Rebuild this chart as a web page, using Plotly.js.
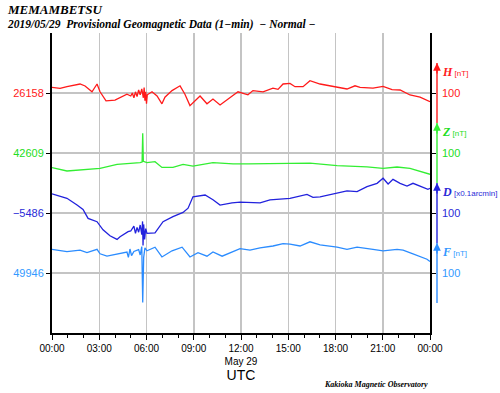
<!DOCTYPE html>
<html>
<head>
<meta charset="utf-8">
<script src="https://cdn.plot.ly/plotly-3.0.1.min.js"></script>
<style>html,body{margin:0;padding:0;background:#fff;}#chart{width:500px;height:393px;}</style>
</head>
<body>
<div id="chart"></div>
<script>
// ---- data (hours UTC, values) ----
const hoursH = [0,0.51,0.95,1.78,2.10,2.54,2.86,3.05,3.43,4.0,4.76,5.0,5.1,5.2,5.3,5.4,5.5,5.6,5.7,5.8,5.85,5.9,5.95,6.0,6.05,6.35,6.67,6.98,7.17,7.62,8.13,8.44,8.76,9.08,9.40,9.84,10.22,10.67,11.30,11.81,12.44,12.76,13.40,14.03,14.35,14.67,15.11,15.43,15.94,16.38,17.02,17.84,18.73,19.24,19.56,20.38,21.02,21.59,22.10,22.73,23.37,24];
const valuesH = [26167.5,26165.8,26168.5,26173,26169.7,26160,26173,26160,26145,26146,26156,26153,26158,26150,26160,26152,26163,26155,26165,26150,26167,26145,26160,26140,26155,26160,26153,26140,26151,26162,26170,26156,26137,26145,26153,26140,26148,26138,26151,26160,26155,26162,26160,26166,26164,26173,26174,26168.5,26168.5,26178.5,26173,26168.5,26164.7,26170,26167.5,26166,26169,26163.5,26163,26154.7,26151,26143.5];

const hoursZ = [0,0.95,3.05,4.13,5.59,5.72,5.76,5.80,6.03,6.54,6.98,7.68,8.32,8.95,10.22,11.49,12.45,15.11,16.38,18.10,20.0,21.02,21.91,22.73,24];
const valuesZ = [42584.5,42579,42583.5,42590,42593,42594,42642,42595,42593,42594.5,42585,42585,42590,42587,42593,42591,42591,42591,42592,42588,42586,42583.5,42585.7,42583.5,42573.5];

const hoursD = [0,0.70,0.95,1.59,1.97,2.29,2.86,3.24,3.68,4.13,4.32,4.83,5.0,5.2,5.3,5.4,5.5,5.6,5.7,5.75,5.78,5.82,5.88,5.95,6.03,6.54,7.05,7.68,8.32,8.64,8.95,9.72,10.22,10.67,11.43,11.94,13.21,13.84,15.11,16.19,16.57,17.02,18.10,18.73,19.37,20.0,20.64,21.02,21.34,21.65,22.10,22.54,22.92,23.49,23.87,24];
const valuesD = [-5454,-5459,-5461.5,-5472.7,-5480,-5495,-5500.5,-5514,-5524,-5530,-5525.5,-5517,-5516,-5508,-5520,-5510,-5518,-5506,-5522,-5500,-5540,-5505,-5530,-5512,-5520,-5519,-5500.5,-5492,-5485,-5478,-5459,-5456,-5464,-5472.7,-5469,-5468,-5469,-5464,-5461.5,-5455,-5460,-5459,-5453,-5449,-5450.5,-5442,-5436.5,-5428,-5437.7,-5430,-5436.5,-5441,-5436.5,-5442,-5446.5,-5445];

const hoursF = [0,0.95,1.78,2.22,2.86,3.05,3.49,4.13,4.76,4.85,4.95,5.05,5.2,5.5,5.6,5.7,5.76,5.82,5.9,6.03,6.54,6.98,7.62,8.26,8.76,9.27,9.84,10.22,10.80,11.94,12.57,13.21,14.03,14.67,15.11,15.75,16.38,17.02,18.10,18.73,19.37,20.38,21.02,21.91,22.29,22.92,23.81,24];
const valuesF = [49985.5,49981.5,49984,49980,49985.5,49978,49974,49978,49981,49972,49986,49975,49982,49985,49976,49990,49897,49972,49988,49983,49989,49972.7,49983,49989,49972.7,49980,49974,49981,49974,49986.5,49984,49988,49991,49995,49994,49991,49998,49992.7,49989,49985.5,49989,49985.5,49983,49985.5,49984,49978,49969,49965];

const baseValues = [26158, 42609, -5486, 49946];
const xTickVals = [0,3,6,9,12,15,18,21,24];
const xTickText = ['00:00','03:00','06:00','09:00','12:00<br>May 29','15:00','18:00','21:00','00:00'];
const compNames = ['H','Z','D','F'];
const compUnits = ['[nT]','[nT]','[x0.1arcmin]','[nT]'];
const scaleValue = 100;

// ---- styling ----
const lineColors = ['#ff1a1a','#33ee33','#2222dd','#2b8cff'];
const labelColors = ['#ff2020','#22dd22','#2a2ad8','#3399ff'];
const basePos = [0.8, 0.6, 0.4, 0.2];
const span = 500;

const xs = [hoursH, hoursZ, hoursD, hoursF];
const ys = [valuesH, valuesZ, valuesD, valuesF];
const axIds = ['y','y2','y3','y4'];

const traces = xs.map((x,i)=>({
  x: x, y: ys[i], type:'scatter', mode:'lines',
  line:{color:lineColors[i], width:1.3},
  yaxis: axIds[i], hoverinfo:'skip', showlegend:false
}));

const layout = {
  width:500, height:393,
  margin:{l:52, r:70, t:33, b:60},
  paper_bgcolor:'#fff', plot_bgcolor:'#fff',
  font:{family:'Liberation Sans, Arial, sans-serif', size:10, color:'#000'},
  showlegend:false,
  xaxis:{
    range:[0,24], tickmode:'array', tickvals:xTickVals, ticktext:xTickText,
    showgrid:true, gridcolor:'#c4c4c4', gridwidth:1.5,
    showline:true, linecolor:'#000', linewidth:1.5,
    ticks:'outside', ticklen:5, tickcolor:'#000', tickwidth:1,
    minor:{tickmode:'linear', tick0:0, dtick:1, ticks:'outside', ticklen:3, tickcolor:'#000', showgrid:false},
    tickfont:{size:10, family:'Liberation Sans, Arial, sans-serif'},
    zeroline:false, fixedrange:true,
    title:{text:'UTC', font:{size:14, family:'Liberation Sans, Arial, sans-serif'}, standoff:4}
  },
  annotations:[], shapes:[]
};

axIds.forEach((id,i)=>{
  const key = i===0 ? 'yaxis' : 'yaxis'+(i+1);
  const lo = baseValues[i] - basePos[i]*span;
  const ax = {
    range:[lo, lo+span], tickmode:'array', tickvals:[baseValues[i]],
    ticktext:[String(baseValues[i]).replace('-','\u2212')],
    tickfont:{color:labelColors[i], size:11, family:'Liberation Sans, Arial, sans-serif'},
    showgrid:true, gridcolor:'#c4c4c4', gridwidth:1.5,
    showline:true, linecolor:'#000', linewidth:2, mirror:'ticks',
    ticks:'outside', ticklen:4, tickcolor:'#000',
    zeroline:false, fixedrange:true, side:'left'
  };
  if(i>0){ ax.overlaying='y'; }
  layout[key] = ax;

  // scale bar shaft (spans one scale unit)
  layout.shapes.push({
    type:'line', xref:'paper', yref:id, x0:1.0185, x1:1.0185,
    y0:baseValues[i]-scaleValue/2, y1:baseValues[i]+scaleValue/2,
    line:{color:lineColors[i], width:1.4}
  });
  // arrow head
  layout.annotations.push({
    xref:'paper', yref:id, x:1.0185, y:baseValues[i]+scaleValue/2,
    ax:0, ay:12, axref:'pixel', ayref:'pixel',
    text:'', showarrow:true, arrowhead:2, arrowsize:1.1, arrowwidth:1.4, arrowcolor:lineColors[i]
  });
  // component label
  layout.annotations.push({
    xref:'paper', yref:id, x:1.027, y:baseValues[i]+35, xanchor:'left', yanchor:'middle',
    showarrow:false,
    text:'<span style="font-family:Liberation Serif;font-size:12px"><b><i>'+compNames[i]+'</i></b></span> <span style="font-size:8px">'+compUnits[i]+'</span>',
    font:{color:labelColors[i], size:8, family:'Liberation Sans, Arial, sans-serif'}
  });
  // scale value
  layout.annotations.push({
    xref:'paper', yref:id, x:1.027, y:baseValues[i], xanchor:'left', yanchor:'middle',
    showarrow:false, text:String(scaleValue),
    font:{color:labelColors[i], size:11, family:'Liberation Sans, Arial, sans-serif'}
  });
});

// titles
layout.annotations.push({
  xref:'paper', yref:'paper', x:-0.1243, y:1.0767, xanchor:'left', yanchor:'middle', showarrow:false,
  text:'<b><i>MEMAMBETSU</i></b>',
  font:{family:'Liberation Serif, Times New Roman, serif', size:13, color:'#000'}
});
layout.annotations.push({
  xref:'paper', yref:'paper', x:-0.1243, y:1.0267, xanchor:'left', yanchor:'middle', showarrow:false,
  text:'<b><i>2019/05/29\u00a0\u00a0Provisional Geomagnetic Data (1\u2212min)\u00a0\u00a0\u2212 Normal \u2212</i></b>',
  font:{family:'Liberation Serif, Times New Roman, serif', size:11.5, color:'#000'}
});
layout.annotations.push({
  xref:'paper', yref:'paper', x:1.0, y:-0.173, xanchor:'right', yanchor:'middle', showarrow:false,
  text:'<b><i>Kakioka Magnetic Observatory</i></b>',
  font:{family:'Liberation Serif, Times New Roman, serif', size:8, color:'#000'}
});

Plotly.newPlot('chart', traces, layout, {staticPlot:true, displayModeBar:false});
</script>
</body>
</html>
